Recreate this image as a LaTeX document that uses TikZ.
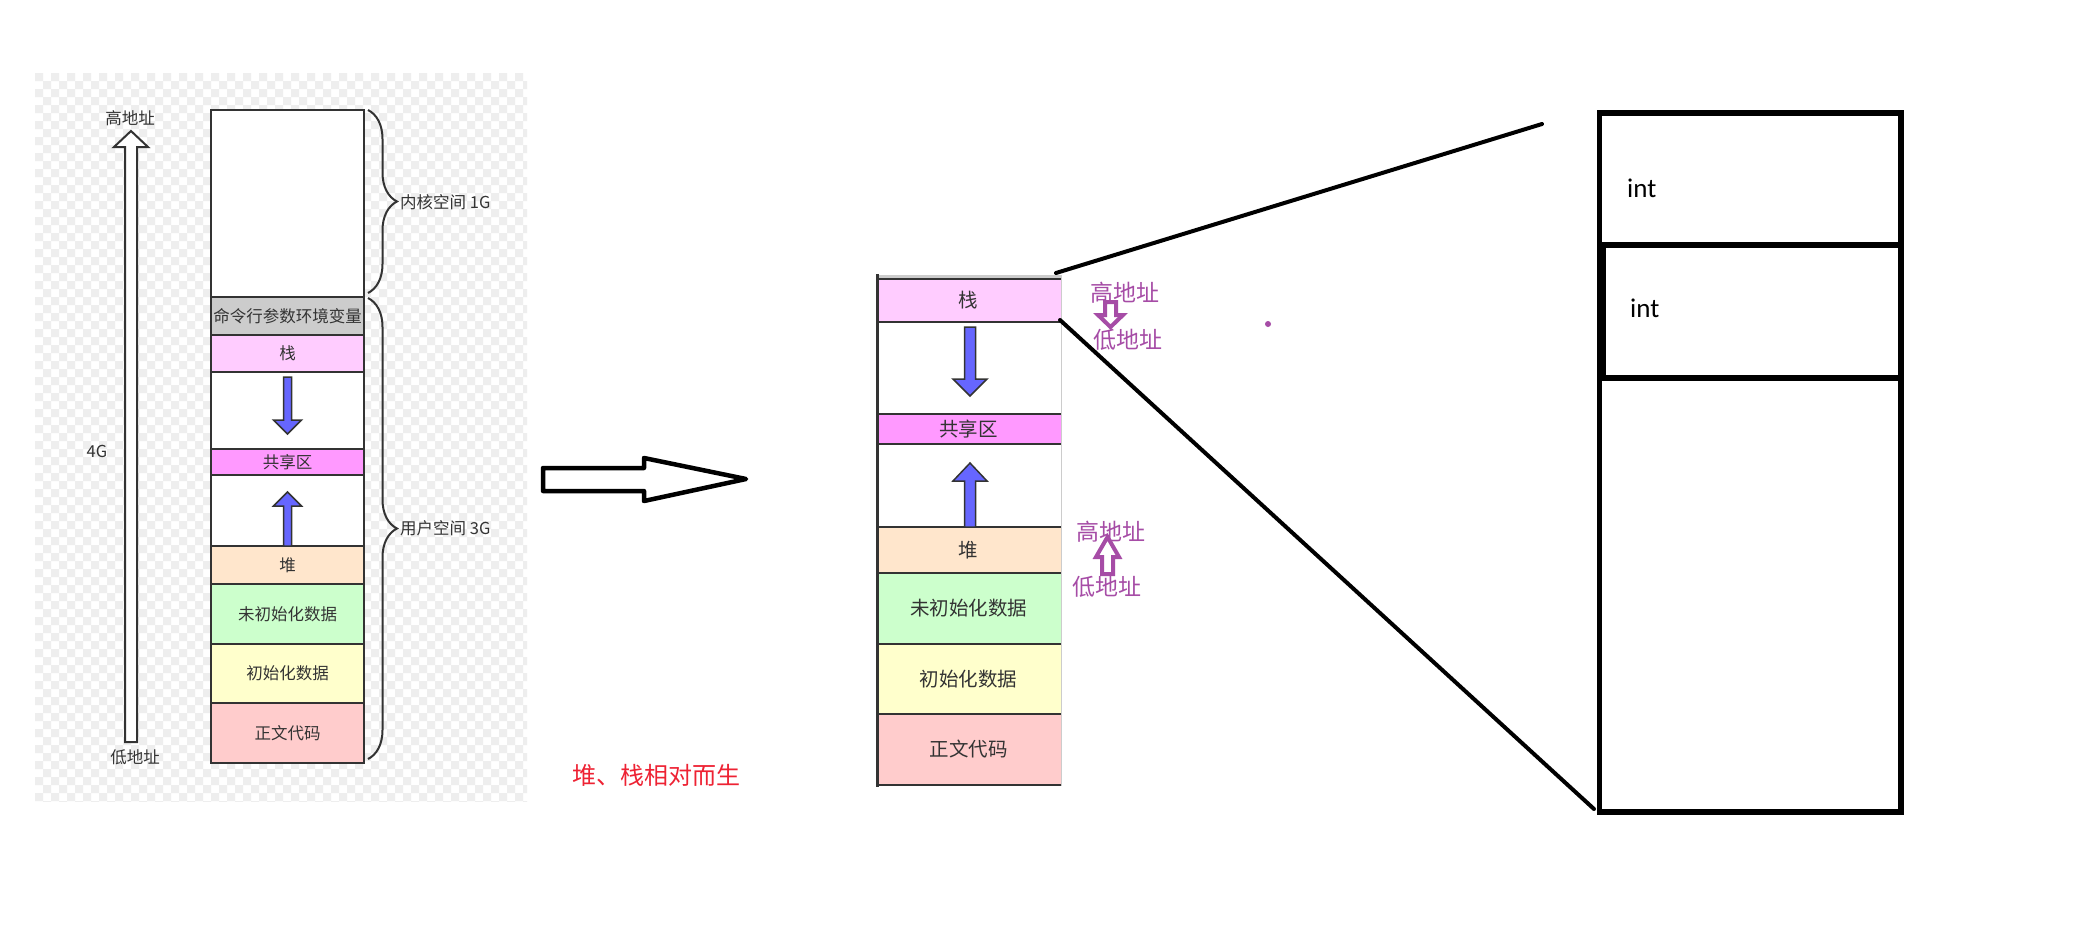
\documentclass[tikz,border=0pt]{standalone}
\usepackage{fontspec}
\newfontfamily\cjk{Noto Sans CJK SC}
\newfontfamily\calfont{Carlito}
\usetikzlibrary{decorations.pathreplacing}
\definecolor{ink}{HTML}{333333}
\definecolor{cmdgray}{HTML}{CCCCCC}
\definecolor{stackpink}{HTML}{FFCCFF}
\definecolor{sharepink}{HTML}{FF99FF}
\definecolor{heapor}{HTML}{FFE6CC}
\definecolor{bssgreen}{HTML}{CCFFCC}
\definecolor{datayel}{HTML}{FFFFCC}
\definecolor{textred}{HTML}{FFCCCC}
\definecolor{arrowblue}{HTML}{6666FF}
\definecolor{purp}{HTML}{A64CA6}
\definecolor{redtxt}{HTML}{EE2233}
\definecolor{check}{HTML}{EEEEEE}
\definecolor{edgegray}{HTML}{CCCCCC}
\begin{document}
\begin{tikzpicture}[x=1pt,y=-1pt,
  lbox/.style={draw=ink, line width=2.5pt, minimum width=153pt, inner sep=0pt, outer sep=0pt, text=ink, font=\cjk\fontsize{16.5}{18}\selectfont},
  ltxt/.style={inner sep=0pt, text=ink, font=\cjk\fontsize{16.5}{18}\selectfont},
  mtxt/.style={inner sep=0pt, text=ink, font=\cjk\fontsize{19.5}{21}\selectfont},
  ptxt/.style={inner sep=0pt, text=purp, font=\cjk\fontsize{23}{25}\selectfont},
  bluearrow/.style={fill=arrowblue, draw=ink, line width=1.5pt, line join=miter},
  purparrow/.style={fill=white, draw=purp, line width=4pt, line join=miter},
  zoomline/.style={draw=black, line width=4pt, line cap=round},
  cellline/.style={draw=black, line width=5.5pt},
  midline/.style={draw=ink, line width=2.5pt}
]
\useasboundingbox[fill=white] (0,0) rectangle (2090,935);

% checkered background
\begin{scope}
\clip (35,73) rectangle (527,801);
\fill[check] \foreach \j in {0,2,...,90} { \foreach \i in {0,2,...,60} { (35+8*\i,73+8*\j) rectangle ++(8,8) (43+8*\i,81+8*\j) rectangle ++(8,8) } };
\end{scope}

% ---------- left stack ----------
\node[lbox, fill=white, minimum height=187pt] (lker) at (287.5,203.5) {};
\node[lbox, fill=cmdgray, minimum height=38pt] (lcmd) at (287.5,316) {命令行参数环境变量};
\node[lbox, fill=stackpink, minimum height=37pt] (lstk) at (287.5,353.5) {栈};
\node[lbox, fill=white, minimum height=77pt] (lgap1) at (287.5,410.5) {};
\node[lbox, fill=sharepink, minimum height=26pt] (lshr) at (287.5,462) {共享区};
\node[lbox, fill=white, minimum height=71pt] (lgap2) at (287.5,510.5) {};
\node[lbox, fill=heapor, minimum height=38pt] (lheap) at (287.5,565) {堆};
\node[lbox, fill=bssgreen, minimum height=60pt] (lbss) at (287.5,614) {未初始化数据};
\node[lbox, fill=datayel, minimum height=59pt] (ldata) at (287.5,673.5) {初始化数据};
\node[lbox, fill=textred, minimum height=60pt] (ltext) at (287.5,733) {正文代码};

% blue arrows left
\draw[bluearrow] (283.5,377) -- (291.5,377) -- (291.5,420) -- (301.5,420) -- (287.5,434) -- (273.5,420) -- (283.5,420) -- cycle;
\draw[bluearrow] (283.5,546) -- (283.5,506) -- (273.5,506) -- (287.5,492) -- (301.5,506) -- (291.5,506) -- (291.5,546) -- cycle;

% tall address arrow
\draw[ink, line width=2pt, fill=white] (125,742) -- (125,147) -- (114,147) -- (131,131) -- (148,147) -- (137,147) -- (137,742) -- cycle;
\node[ltxt] (lhigh) at (130,118) {高地址};
\node[ltxt] (llow) at (135,757) {低地址};
\node[ltxt] (l4g) at (97,451) {4G};

% braces
\draw[ink, line width=2pt, decorate, decoration={brace, amplitude=29pt, aspect=0.5}] (368,110) -- (368,293);
\draw[ink, line width=2pt, decorate, decoration={brace, amplitude=29pt, aspect=0.5}] (368,298) -- (368,759);
\node[ltxt, anchor=west] (kl) at (400,202) {内核空间 1G};
\node[ltxt, anchor=west] (ul) at (400,528) {用户空间 3G};

% big hollow arrow
\draw[black, line width=4.5pt, line join=round, fill=white] (543,468) -- (644,468) -- (644,458) -- (746,479) -- (644,501) -- (644,491) -- (543,491) -- cycle;
\node[inner sep=0pt, text=redtxt, font=\cjk\fontsize{24}{26}\selectfont] (rel) at (656,775) {堆、栈相对而生};

% ---------- middle stack ----------
\fill[cmdgray] (876,275) rectangle (1061,279);
\fill[stackpink] (876,279) rectangle (1061,322);
\fill[sharepink] (876,414) rectangle (1061,444);
\fill[heapor] (876,527) rectangle (1061,573);
\fill[bssgreen] (876,573) rectangle (1061,644);
\fill[datayel] (876,644) rectangle (1061,714);
\fill[textred] (876,714) rectangle (1061,785);
\foreach \yy in {279,322,414,444,527,573,644,714,785} { \draw[midline] (876,\yy) -- (1061,\yy); }
\draw[edgegray, line width=1pt] (1061,275) -- (1061,786);
\draw[ink, line width=3pt] (877,274) -- (877,786.5);
\coordinate (mtr) at (1056,273);
\coordinate (mbr) at (1060,320);

\node[mtxt] (mstk) at (968.5,300.5) {栈};
\node[mtxt] (mshr) at (968.5,429) {共享区};
\node[mtxt] (mheap) at (968.5,550) {堆};
\node[mtxt] (mbss) at (968.5,608.5) {未初始化数据};
\node[mtxt] (mdata) at (968.5,679) {初始化数据};
\node[mtxt] (mtext) at (968.5,749.5) {正文代码};

\draw[bluearrow] (964.5,327) -- (975.5,327) -- (975.5,379) -- (987,379) -- (970,396) -- (953,379) -- (964.5,379) -- cycle;
\draw[bluearrow] (964.5,527) -- (964.5,481) -- (953,481) -- (970,463) -- (987,481) -- (975.5,481) -- (975.5,527) -- cycle;

% purple annotations
\node[ptxt] (ph1) at (1125,293) {高地址};
\node[ptxt] (pl1) at (1128,340) {低地址};
\draw[purparrow] (1105,302) -- (1116,302) -- (1116,315) -- (1123,315) -- (1110.5,327) -- (1098,315) -- (1105,315) -- cycle;
\node[ptxt] (ph2) at (1111,532) {高地址};
\node[ptxt] (pl2) at (1107,587) {低地址};
\draw[purparrow] (1102,574) -- (1102,557) -- (1096,557) -- (1107.5,537) -- (1119,557) -- (1113,557) -- (1113,574) -- cycle;
\fill[purp] (1268,324) circle (3);

% ---------- right box ----------
\coordinate (rtop) at (1542,124);
\coordinate (rbl) at (1594,809);
\draw[cellline] (1599.5,113) rectangle (1901,812);
\draw[cellline] (1599.5,245) -- (1901,245);
\draw[cellline] (1599.5,378) -- (1901,378);
\draw[cellline] (1603,245) -- (1603,378);
\node[inner sep=0pt, anchor=west, font=\calfont\fontsize{27}{29}\selectfont] (int1) at (1627,188) {int};
\node[inner sep=0pt, anchor=west, font=\calfont\fontsize{27}{29}\selectfont] (int2) at (1630,308) {int};

% zoom lines
\draw[zoomline] (mtr) -- (rtop);
\draw[zoomline] (mbr) -- (rbl);
\end{tikzpicture}
\end{document}
